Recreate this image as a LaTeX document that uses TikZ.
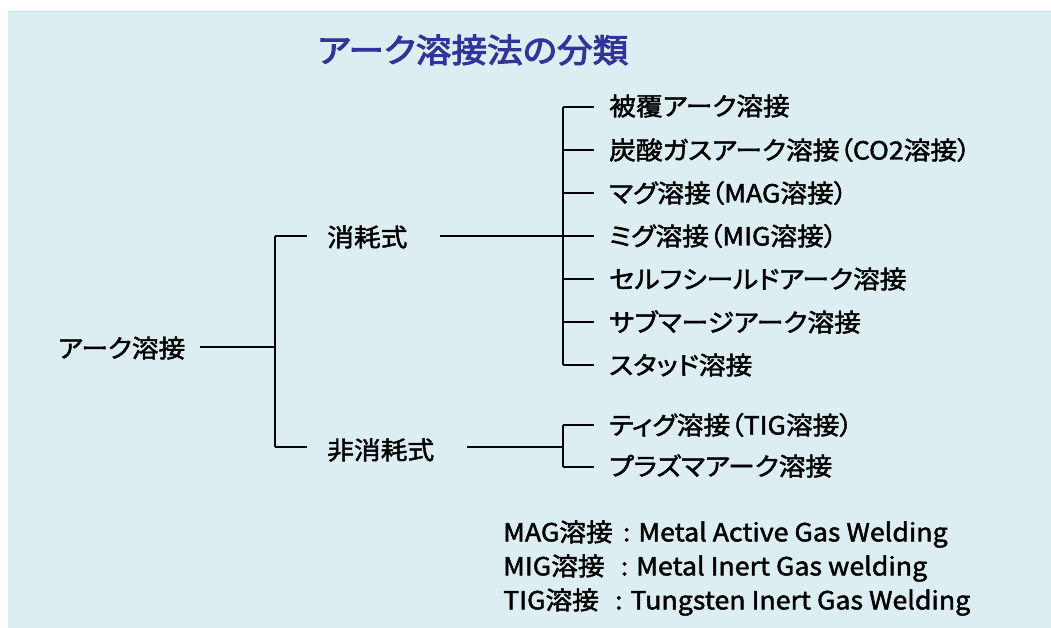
\documentclass[tikz,border=0pt]{standalone}
\usepackage{fontspec}
\setmainfont{Noto Sans CJK JP}[RawFeature=+palt,FakeBold=1.8,FakeStretch=1.07]
\newfontfamily\titlefont{Noto Sans CJK JP}[RawFeature=+palt,FakeBold=3,FakeStretch=1.08]
\definecolor{bgblue}{RGB}{220,238,242}
\definecolor{bgedge}{RGB}{190,224,228}
\definecolor{titleblue}{RGB}{51,51,153}
\tikzset{
  lbl/.style={anchor=west,inner sep=0pt,font=\fontsize{25}{28}\selectfont},
  note/.style={anchor=west,inner sep=0pt,font=\fontsize{25}{28}\selectfont},
  conn/.style={line width=2.4pt,black},
}
\begin{document}
\begin{tikzpicture}[x=1pt,y=-1pt]
\useasboundingbox (0,0) rectangle (1051,628);
\fill[bgblue] (8,11) rectangle (1051,628);
\draw[bgedge,line width=1pt] (8,11.5) -- (1051,11.5);
\node[anchor=center,inner sep=0pt,text=titleblue,font=\titlefont\fontsize{33}{36}\selectfont] (title) at (473,50) {アーク溶接法の分類};
% level 0
\node[lbl] (root) at (58,348) {アーク溶接};
% level 1
\node[lbl] (s1) at (327,237) {消耗式};
\node[lbl] (s2) at (327,450) {非消耗式};
% level 2 upper
\node[lbl] (a1) at (609,106) {被覆アーク溶接};
\node[lbl] (a2) at (609,150) {炭酸ガスアーク溶接（CO2溶接）};
\node[lbl] (a3) at (609,193) {マグ溶接（MAG溶接）};
\node[lbl] (a4) at (609,236) {ミグ溶接（MIG溶接）};
\node[lbl] (a5) at (609,279) {セルフシールドアーク溶接};
\node[lbl] (a6) at (609,322) {サブマージアーク溶接};
\node[lbl] (a7) at (609,365) {スタッド溶接};
% level 2 lower
\node[lbl] (b1) at (609,425) {ティグ溶接（TIG溶接）};
\node[lbl] (b2) at (609,466) {プラズマアーク溶接};
% trunks
\coordinate (t1) at (275,236);
\coordinate (t2) at (275,447);
\coordinate (tr) at (275,347);
\coordinate (u1) at (563,107);
\coordinate (u7) at (563,365);
\coordinate (um) at (563,236);
\coordinate (l1) at (563,425);
\coordinate (l2) at (563,467);
\coordinate (lm) at (563,447);
\draw[conn] (t1) -- (t2);
\draw[conn] (200,347) coordinate (r0) -- (tr);
\draw[conn] (t1) -- ([xshift=-20]s1.west |- t1);
\draw[conn] (t2) -- ([xshift=-20]s2.west |- t2);
\draw[conn] (440,236) coordinate (s1e) -- (um);
\draw[conn] (467,447) coordinate (s2e) -- (lm);
\draw[conn] (u1) -- (u7);
\draw[conn] (l1) -- (l2);
\foreach \n/\y in {a1/107,a2/150,a3/193,a4/236,a5/279,a6/322,a7/365,b1/425,b2/467}
  \draw[conn] (563,\y) -- ([xshift=-15]\n.west |- 0,\y);
% notes
\node[note] (n1) at (503,534) {MAG溶接 \,: Metal Active Gas Welding};
\node[note] (n2) at (503,568) {MIG溶接\ \ \,: Metal Inert Gas welding};
\node[note] (n3) at (503,602) {TIG溶接\ \ \,: Tungsten Inert Gas Welding};
\end{tikzpicture}
\end{document}
